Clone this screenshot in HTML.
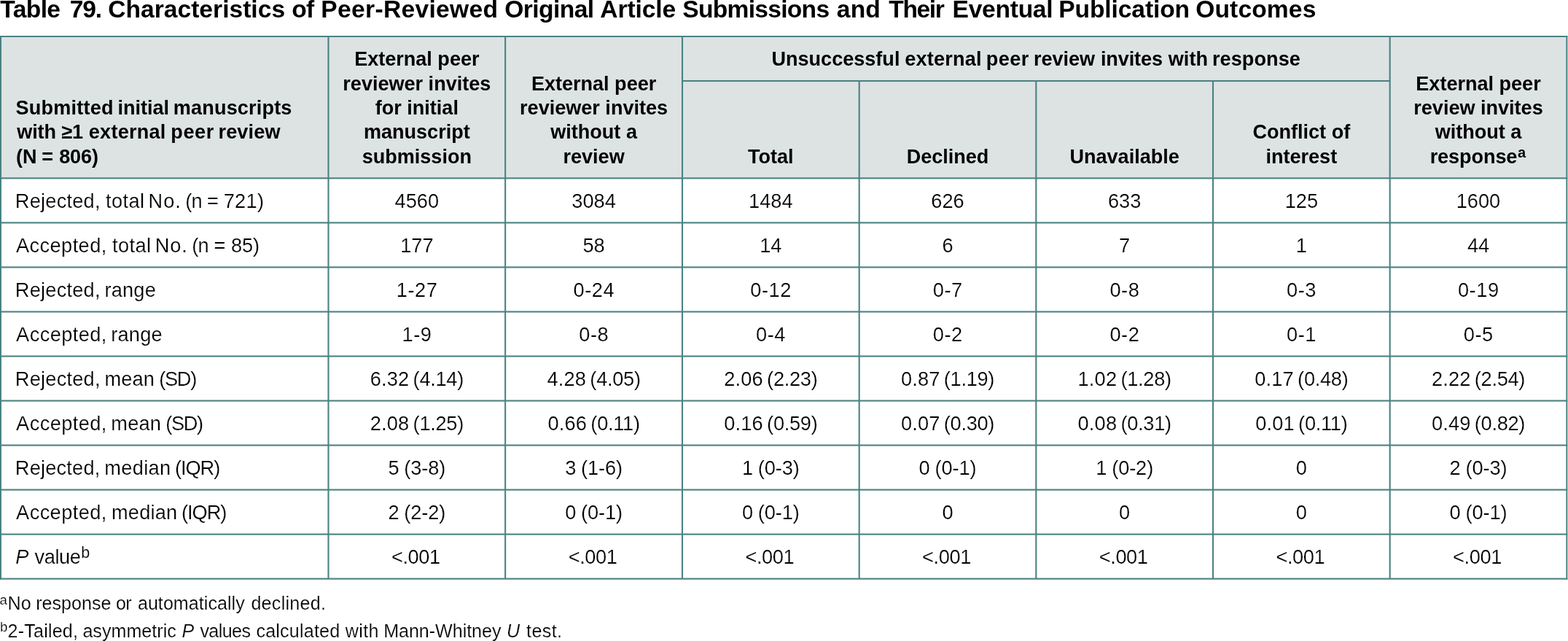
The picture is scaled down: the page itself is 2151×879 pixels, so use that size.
<!DOCTYPE html>
<html lang="en"><head><meta charset="utf-8"><title>Table 79</title>
<style>
html,body{margin:0;padding:0;background:#fff;}
body{width:2151px;height:879px;position:relative;overflow:hidden;font-family:"Liberation Sans",sans-serif;color:#000;}
.grid{position:absolute;left:0;top:0;display:block;shape-rendering:geometricPrecision;}
.t{position:absolute;white-space:nowrap;margin:0;padding:0;}
.t{-webkit-text-stroke:0.2px #fff;}
.b{font-weight:700;-webkit-text-stroke:0;}
.i{font-style:italic;}
</style></head>
<body>
<svg class="grid" width="2151" height="879" viewBox="0 0 2151 879">
<rect x="0" y="50.0" width="2150.33" height="194.4" fill="#dde3e3"/>
<rect x="449.45" y="50.00" width="2.1" height="743.67" fill="#4b8282"/>
<rect x="692.10" y="50.00" width="2.1" height="743.67" fill="#4b8282"/>
<rect x="934.95" y="50.00" width="2.1" height="743.67" fill="#4b8282"/>
<rect x="1177.62" y="111.00" width="2.1" height="682.67" fill="#4b8282"/>
<rect x="1420.28" y="111.00" width="2.1" height="682.67" fill="#4b8282"/>
<rect x="1662.95" y="111.00" width="2.1" height="682.67" fill="#4b8282"/>
<rect x="1905.62" y="50.00" width="2.1" height="743.67" fill="#4b8282"/>
<rect x="0.00" y="49.00" width="2.0" height="745.67" fill="#4b8282"/>
<rect x="2148.33" y="49.00" width="2.0" height="745.67" fill="#4b8282"/>
<rect x="936.00" y="109.95" width="970.67" height="2.1" fill="#4b8282"/>
<rect x="0.00" y="243.35" width="2150.33" height="2.1" fill="#4b8282"/>
<rect x="0.00" y="304.38" width="2150.33" height="2.1" fill="#4b8282"/>
<rect x="0.00" y="365.41" width="2150.33" height="2.1" fill="#4b8282"/>
<rect x="0.00" y="426.44" width="2150.33" height="2.1" fill="#4b8282"/>
<rect x="0.00" y="487.47" width="2150.33" height="2.1" fill="#4b8282"/>
<rect x="0.00" y="548.50" width="2150.33" height="2.1" fill="#4b8282"/>
<rect x="0.00" y="609.53" width="2150.33" height="2.1" fill="#4b8282"/>
<rect x="0.00" y="670.56" width="2150.33" height="2.1" fill="#4b8282"/>
<rect x="0.00" y="731.59" width="2150.33" height="2.1" fill="#4b8282"/>
<rect x="0.00" y="792.62" width="2150.33" height="2.1" fill="#4b8282"/>
<rect x="0.00" y="49.00" width="2150.33" height="2.0" fill="#4b8282"/>
</svg>
<div class="t b" style="top:-11px;left:0.36px;font-size:33.6px;line-height:47px;height:47px;letter-spacing:-0.645px;">Table</div>
<div class="t b" style="top:-11px;left:95.66px;font-size:33.6px;line-height:47px;height:47px;letter-spacing:-1.093px;">79.</div>
<div class="t b" style="top:-11px;left:148.26px;font-size:33.6px;line-height:47px;height:47px;letter-spacing:0.012px;">Characteristics</div>
<div class="t b" style="top:-11px;left:400.32px;font-size:33.6px;line-height:47px;height:47px;letter-spacing:-0.800px;">of</div>
<div class="t b" style="top:-11px;left:440.32px;font-size:33.6px;line-height:47px;height:47px;letter-spacing:0.320px;">Peer-Reviewed</div>
<div class="t b" style="top:-11px;left:692.16px;font-size:33.6px;line-height:47px;height:47px;letter-spacing:-0.547px;">Original</div>
<div class="t b" style="top:-11px;left:823.33px;font-size:33.6px;line-height:47px;height:47px;letter-spacing:-0.126px;">Article</div>
<div class="t b" style="top:-11px;left:936.36px;font-size:33.6px;line-height:47px;height:47px;letter-spacing:-0.726px;">Submissions</div>
<div class="t b" style="top:-11px;left:1147.86px;font-size:33.6px;line-height:47px;height:47px;letter-spacing:0.109px;">and</div>
<div class="t b" style="top:-11px;left:1219.36px;font-size:33.6px;line-height:47px;height:47px;letter-spacing:-1.409px;">Their</div>
<div class="t b" style="top:-11px;left:1306.62px;font-size:33.6px;line-height:47px;height:47px;letter-spacing:-0.283px;">Eventual</div>
<div class="t b" style="top:-11px;left:1452.22px;font-size:33.6px;line-height:47px;height:47px;letter-spacing:-0.105px;">Publication</div>
<div class="t b" style="top:-11px;left:1640.16px;font-size:33.6px;line-height:47px;height:47px;letter-spacing:0.136px;">Outcomes</div>
<div class="t b" style="top:128px;left:21.52px;font-size:27.05px;line-height:40px;height:40px;letter-spacing:0.227px;">Submitted</div>
<div class="t b" style="top:128px;left:161.54px;font-size:27.05px;line-height:40px;height:40px;letter-spacing:-0.024px;">initial</div>
<div class="t b" style="top:128px;left:237.84px;font-size:27.05px;line-height:40px;height:40px;letter-spacing:0.169px;">manuscripts</div>
<div class="t b" style="top:161px;left:23.24px;font-size:27.05px;line-height:40px;height:40px;letter-spacing:-0.092px;">with</div>
<div class="t b" style="top:161px;left:84.58px;font-size:27.05px;line-height:40px;height:40px;">≥</div>
<div class="t b" style="top:161px;left:99.07px;font-size:27.05px;line-height:40px;height:40px;">1</div>
<div class="t b" style="top:161px;left:121.85px;font-size:27.05px;line-height:40px;height:40px;letter-spacing:0.233px;">external</div>
<div class="t b" style="top:161px;left:234.34px;font-size:27.05px;line-height:40px;height:40px;letter-spacing:0.601px;">peer</div>
<div class="t b" style="top:161px;left:299.44px;font-size:27.05px;line-height:40px;height:40px;letter-spacing:0.177px;">review</div>
<div class="t b" style="top:195px;left:21.88px;font-size:27.05px;line-height:40px;height:40px;letter-spacing:0.192px;">(N</div>
<div class="t b" style="top:195px;left:57.19px;font-size:27.05px;line-height:40px;height:40px;">=</div>
<div class="t b" style="top:195px;left:81.19px;font-size:27.05px;line-height:40px;height:40px;letter-spacing:-0.110px;">806)</div>
<div class="t b" style="top:61px;font-size:27.05px;line-height:40px;height:40px;left:71.83px;width:1000px;text-align:center;">External peer</div>
<div class="t b" style="top:95px;font-size:27.05px;line-height:40px;height:40px;left:71.83px;width:1000px;text-align:center;">reviewer invites</div>
<div class="t b" style="top:128px;font-size:27.05px;line-height:40px;height:40px;left:71.83px;width:1000px;text-align:center;">for initial</div>
<div class="t b" style="top:161px;font-size:27.05px;line-height:40px;height:40px;left:71.83px;width:1000px;text-align:center;">manuscript</div>
<div class="t b" style="top:195px;font-size:27.05px;line-height:40px;height:40px;left:71.83px;width:1000px;text-align:center;">submission</div>
<div class="t b" style="top:95px;font-size:27.05px;line-height:40px;height:40px;left:314.58px;width:1000px;text-align:center;">External peer</div>
<div class="t b" style="top:128px;font-size:27.05px;line-height:40px;height:40px;left:314.58px;width:1000px;text-align:center;">reviewer invites</div>
<div class="t b" style="top:161px;font-size:27.05px;line-height:40px;height:40px;left:314.58px;width:1000px;text-align:center;">without a</div>
<div class="t b" style="top:195px;font-size:27.05px;line-height:40px;height:40px;left:314.58px;width:1000px;text-align:center;">review</div>
<div class="t b" style="top:61px;left:1058.48px;font-size:27.05px;line-height:40px;height:40px;letter-spacing:0.006px;">Unsuccessful</div>
<div class="t b" style="top:61px;left:1241.15px;font-size:27.05px;line-height:40px;height:40px;letter-spacing:0.219px;">external</div>
<div class="t b" style="top:61px;left:1352.74px;font-size:27.05px;line-height:40px;height:40px;letter-spacing:0.501px;">peer</div>
<div class="t b" style="top:61px;left:1418.04px;font-size:27.05px;line-height:40px;height:40px;letter-spacing:-0.023px;">review</div>
<div class="t b" style="top:61px;left:1509.94px;font-size:27.05px;line-height:40px;height:40px;letter-spacing:-0.110px;">invites</div>
<div class="t b" style="top:61px;left:1602.64px;font-size:27.05px;line-height:40px;height:40px;letter-spacing:0.141px;">with</div>
<div class="t b" style="top:61px;left:1662.94px;font-size:27.05px;line-height:40px;height:40px;letter-spacing:0.090px;">response</div>
<div class="t b" style="top:195px;font-size:27.05px;line-height:40px;height:40px;left:557.34px;width:1000px;text-align:center;">Total</div>
<div class="t b" style="top:195px;font-size:27.05px;line-height:40px;height:40px;left:800.00px;width:1000px;text-align:center;">Declined</div>
<div class="t b" style="top:195px;font-size:27.05px;line-height:40px;height:40px;left:1042.66px;width:1000px;text-align:center;">Unavailable</div>
<div class="t b" style="top:161px;font-size:27.05px;line-height:40px;height:40px;left:1285.34px;width:1000px;text-align:center;">Conflict of</div>
<div class="t b" style="top:195px;font-size:27.05px;line-height:40px;height:40px;left:1285.34px;width:1000px;text-align:center;">interest</div>
<div class="t b" style="top:95px;font-size:27.05px;line-height:40px;height:40px;left:1528.00px;width:1000px;text-align:center;">External peer</div>
<div class="t b" style="top:128px;font-size:27.05px;line-height:40px;height:40px;left:1528.00px;width:1000px;text-align:center;">review invites</div>
<div class="t b" style="top:161px;font-size:27.05px;line-height:40px;height:40px;left:1528.00px;width:1000px;text-align:center;">without a</div>
<div class="t b" style="top:195px;left:1961.64px;font-size:27.05px;line-height:40px;height:40px;letter-spacing:-0.067px;">response</div>
<div class="t b" style="top:193px;left:2081.90px;font-size:20.0px;line-height:32px;height:32px;">a</div>
<div class="t" style="top:255px;left:20.82px;font-size:27.2px;line-height:41px;height:41px;letter-spacing:0.232px;">Rejected,</div>
<div class="t" style="top:255px;left:144.99px;font-size:27.2px;line-height:41px;height:41px;letter-spacing:0.397px;">total</div>
<div class="t" style="top:255px;left:203.52px;font-size:27.2px;line-height:41px;height:41px;letter-spacing:1.019px;">No.</div>
<div class="t" style="top:255px;left:254.17px;font-size:27.2px;line-height:41px;height:41px;letter-spacing:-0.790px;">(n</div>
<div class="t" style="top:255px;left:284.01px;font-size:27.2px;line-height:41px;height:41px;">=</div>
<div class="t" style="top:255px;left:306.64px;font-size:27.2px;line-height:41px;height:41px;letter-spacing:0.299px;">721)</div>
<div class="t " style="top:255px;font-size:27.2px;line-height:41px;height:41px;left:71.83px;width:1000px;text-align:center;">4560</div>
<div class="t " style="top:255px;font-size:27.2px;line-height:41px;height:41px;left:314.58px;width:1000px;text-align:center;">3084</div>
<div class="t " style="top:255px;font-size:27.2px;line-height:41px;height:41px;left:557.34px;width:1000px;text-align:center;">1484</div>
<div class="t " style="top:255px;font-size:27.2px;line-height:41px;height:41px;left:800.00px;width:1000px;text-align:center;">626</div>
<div class="t " style="top:255px;font-size:27.2px;line-height:41px;height:41px;left:1042.66px;width:1000px;text-align:center;">633</div>
<div class="t " style="top:255px;font-size:27.2px;line-height:41px;height:41px;left:1285.34px;width:1000px;text-align:center;">125</div>
<div class="t " style="top:255px;font-size:27.2px;line-height:41px;height:41px;left:1528.00px;width:1000px;text-align:center;">1600</div>
<div class="t" style="top:316px;left:22.00px;font-size:27.2px;line-height:41px;height:41px;letter-spacing:0.415px;">Accepted,</div>
<div class="t" style="top:316px;left:153.99px;font-size:27.2px;line-height:41px;height:41px;letter-spacing:0.397px;">total</div>
<div class="t" style="top:316px;left:212.72px;font-size:27.2px;line-height:41px;height:41px;letter-spacing:0.919px;">No.</div>
<div class="t" style="top:316px;left:263.17px;font-size:27.2px;line-height:41px;height:41px;letter-spacing:-0.790px;">(n</div>
<div class="t" style="top:316px;left:293.46px;font-size:27.2px;line-height:41px;height:41px;">=</div>
<div class="t" style="top:316px;left:317.11px;font-size:27.2px;line-height:41px;height:41px;letter-spacing:-0.123px;">85)</div>
<div class="t " style="top:316px;font-size:27.2px;line-height:41px;height:41px;left:71.83px;width:1000px;text-align:center;">177</div>
<div class="t " style="top:316px;font-size:27.2px;line-height:41px;height:41px;left:314.58px;width:1000px;text-align:center;">58</div>
<div class="t " style="top:316px;font-size:27.2px;line-height:41px;height:41px;left:557.34px;width:1000px;text-align:center;">14</div>
<div class="t " style="top:316px;font-size:27.2px;line-height:41px;height:41px;left:800.00px;width:1000px;text-align:center;">6</div>
<div class="t " style="top:316px;font-size:27.2px;line-height:41px;height:41px;left:1042.66px;width:1000px;text-align:center;">7</div>
<div class="t " style="top:316px;font-size:27.2px;line-height:41px;height:41px;left:1285.34px;width:1000px;text-align:center;">1</div>
<div class="t " style="top:316px;font-size:27.2px;line-height:41px;height:41px;left:1528.00px;width:1000px;text-align:center;">44</div>
<div class="t" style="top:377px;left:20.82px;font-size:27.2px;line-height:41px;height:41px;letter-spacing:0.232px;">Rejected,</div>
<div class="t" style="top:377px;left:143.53px;font-size:27.2px;line-height:41px;height:41px;letter-spacing:0.180px;">range</div>
<div class="t " style="top:377px;font-size:27.2px;line-height:41px;height:41px;left:72.08px;width:1000px;text-align:center;letter-spacing:0.550px;">1-27</div>
<div class="t " style="top:377px;font-size:27.2px;line-height:41px;height:41px;left:314.83px;width:1000px;text-align:center;letter-spacing:0.550px;">0-24</div>
<div class="t " style="top:377px;font-size:27.2px;line-height:41px;height:41px;left:557.59px;width:1000px;text-align:center;letter-spacing:0.550px;">0-12</div>
<div class="t " style="top:377px;font-size:27.2px;line-height:41px;height:41px;left:800.25px;width:1000px;text-align:center;letter-spacing:0.550px;">0-7</div>
<div class="t " style="top:377px;font-size:27.2px;line-height:41px;height:41px;left:1042.91px;width:1000px;text-align:center;letter-spacing:0.550px;">0-8</div>
<div class="t " style="top:377px;font-size:27.2px;line-height:41px;height:41px;left:1285.59px;width:1000px;text-align:center;letter-spacing:0.550px;">0-3</div>
<div class="t " style="top:377px;font-size:27.2px;line-height:41px;height:41px;left:1528.25px;width:1000px;text-align:center;letter-spacing:0.550px;">0-19</div>
<div class="t" style="top:438px;left:22.10px;font-size:27.2px;line-height:41px;height:41px;letter-spacing:0.415px;">Accepted,</div>
<div class="t" style="top:438px;left:152.33px;font-size:27.2px;line-height:41px;height:41px;letter-spacing:0.180px;">range</div>
<div class="t " style="top:438px;font-size:27.2px;line-height:41px;height:41px;left:72.08px;width:1000px;text-align:center;letter-spacing:0.550px;">1-9</div>
<div class="t " style="top:438px;font-size:27.2px;line-height:41px;height:41px;left:314.83px;width:1000px;text-align:center;letter-spacing:0.550px;">0-8</div>
<div class="t " style="top:438px;font-size:27.2px;line-height:41px;height:41px;left:557.59px;width:1000px;text-align:center;letter-spacing:0.550px;">0-4</div>
<div class="t " style="top:438px;font-size:27.2px;line-height:41px;height:41px;left:800.25px;width:1000px;text-align:center;letter-spacing:0.550px;">0-2</div>
<div class="t " style="top:438px;font-size:27.2px;line-height:41px;height:41px;left:1042.91px;width:1000px;text-align:center;letter-spacing:0.550px;">0-2</div>
<div class="t " style="top:438px;font-size:27.2px;line-height:41px;height:41px;left:1285.59px;width:1000px;text-align:center;letter-spacing:0.550px;">0-1</div>
<div class="t " style="top:438px;font-size:27.2px;line-height:41px;height:41px;left:1528.25px;width:1000px;text-align:center;letter-spacing:0.550px;">0-5</div>
<div class="t" style="top:499px;left:20.82px;font-size:27.2px;line-height:41px;height:41px;letter-spacing:0.232px;">Rejected,</div>
<div class="t" style="top:499px;left:143.43px;font-size:27.2px;line-height:41px;height:41px;letter-spacing:0.130px;">mean</div>
<div class="t" style="top:499px;left:218.27px;font-size:27.2px;line-height:41px;height:41px;letter-spacing:-1.297px;">(SD)</div>
<div class="t " style="top:499px;font-size:27.2px;line-height:41px;height:41px;left:71.83px;width:1000px;text-align:center;"><span style="letter-spacing:0.2px">6.32</span><span style="letter-spacing:-0.28px;margin-left:-2.1px"> (4.14)</span></div>
<div class="t " style="top:499px;font-size:27.2px;line-height:41px;height:41px;left:314.58px;width:1000px;text-align:center;"><span style="letter-spacing:0.2px">4.28</span><span style="letter-spacing:-0.28px;margin-left:-2.1px"> (4.05)</span></div>
<div class="t " style="top:499px;font-size:27.2px;line-height:41px;height:41px;left:557.34px;width:1000px;text-align:center;"><span style="letter-spacing:0.2px">2.06</span><span style="letter-spacing:-0.28px;margin-left:-2.1px"> (2.23)</span></div>
<div class="t " style="top:499px;font-size:27.2px;line-height:41px;height:41px;left:800.00px;width:1000px;text-align:center;"><span style="letter-spacing:0.2px">0.87</span><span style="letter-spacing:-0.28px;margin-left:-2.1px"> (1.19)</span></div>
<div class="t " style="top:499px;font-size:27.2px;line-height:41px;height:41px;left:1042.66px;width:1000px;text-align:center;"><span style="letter-spacing:0.2px">1.02</span><span style="letter-spacing:-0.28px;margin-left:-2.1px"> (1.28)</span></div>
<div class="t " style="top:499px;font-size:27.2px;line-height:41px;height:41px;left:1285.34px;width:1000px;text-align:center;"><span style="letter-spacing:0.2px">0.17</span><span style="letter-spacing:-0.28px;margin-left:-2.1px"> (0.48)</span></div>
<div class="t " style="top:499px;font-size:27.2px;line-height:41px;height:41px;left:1528.00px;width:1000px;text-align:center;"><span style="letter-spacing:0.2px">2.22</span><span style="letter-spacing:-0.28px;margin-left:-2.1px"> (2.54)</span></div>
<div class="t" style="top:560px;left:22.10px;font-size:27.2px;line-height:41px;height:41px;letter-spacing:0.415px;">Accepted,</div>
<div class="t" style="top:560px;left:152.33px;font-size:27.2px;line-height:41px;height:41px;letter-spacing:0.197px;">mean</div>
<div class="t" style="top:560px;left:227.37px;font-size:27.2px;line-height:41px;height:41px;letter-spacing:-1.364px;">(SD)</div>
<div class="t " style="top:560px;font-size:27.2px;line-height:41px;height:41px;left:71.83px;width:1000px;text-align:center;"><span style="letter-spacing:0.2px">2.08</span><span style="letter-spacing:-0.28px;margin-left:-2.1px"> (1.25)</span></div>
<div class="t " style="top:560px;font-size:27.2px;line-height:41px;height:41px;left:314.58px;width:1000px;text-align:center;"><span style="letter-spacing:0.2px">0.66</span><span style="letter-spacing:-0.28px;margin-left:-2.1px"> (0.11)</span></div>
<div class="t " style="top:560px;font-size:27.2px;line-height:41px;height:41px;left:557.34px;width:1000px;text-align:center;"><span style="letter-spacing:0.2px">0.16</span><span style="letter-spacing:-0.28px;margin-left:-2.1px"> (0.59)</span></div>
<div class="t " style="top:560px;font-size:27.2px;line-height:41px;height:41px;left:800.00px;width:1000px;text-align:center;"><span style="letter-spacing:0.2px">0.07</span><span style="letter-spacing:-0.28px;margin-left:-2.1px"> (0.30)</span></div>
<div class="t " style="top:560px;font-size:27.2px;line-height:41px;height:41px;left:1042.66px;width:1000px;text-align:center;"><span style="letter-spacing:0.2px">0.08</span><span style="letter-spacing:-0.28px;margin-left:-2.1px"> (0.31)</span></div>
<div class="t " style="top:560px;font-size:27.2px;line-height:41px;height:41px;left:1285.34px;width:1000px;text-align:center;"><span style="letter-spacing:0.2px">0.01</span><span style="letter-spacing:-0.28px;margin-left:-2.1px"> (0.11)</span></div>
<div class="t " style="top:560px;font-size:27.2px;line-height:41px;height:41px;left:1528.00px;width:1000px;text-align:center;"><span style="letter-spacing:0.2px">0.49</span><span style="letter-spacing:-0.28px;margin-left:-2.1px"> (0.82)</span></div>
<div class="t" style="top:621px;left:20.82px;font-size:27.2px;line-height:41px;height:41px;letter-spacing:0.207px;">Rejected,</div>
<div class="t" style="top:621px;left:143.33px;font-size:27.2px;line-height:41px;height:41px;letter-spacing:0.324px;">median</div>
<div class="t" style="top:621px;left:239.97px;font-size:27.2px;line-height:41px;height:41px;letter-spacing:-1.041px;">(IQR)</div>
<div class="t " style="top:621px;font-size:27.2px;line-height:41px;height:41px;left:71.83px;width:1000px;text-align:center;">5<span style="letter-spacing:-0.1px;margin-left:-0.6px"> (3-8)</span></div>
<div class="t " style="top:621px;font-size:27.2px;line-height:41px;height:41px;left:314.58px;width:1000px;text-align:center;">3<span style="letter-spacing:-0.1px;margin-left:-0.6px"> (1-6)</span></div>
<div class="t " style="top:621px;font-size:27.2px;line-height:41px;height:41px;left:557.34px;width:1000px;text-align:center;">1<span style="letter-spacing:-0.1px;margin-left:-0.6px"> (0-3)</span></div>
<div class="t " style="top:621px;font-size:27.2px;line-height:41px;height:41px;left:800.00px;width:1000px;text-align:center;">0<span style="letter-spacing:-0.1px;margin-left:-0.6px"> (0-1)</span></div>
<div class="t " style="top:621px;font-size:27.2px;line-height:41px;height:41px;left:1042.66px;width:1000px;text-align:center;">1<span style="letter-spacing:-0.1px;margin-left:-0.6px"> (0-2)</span></div>
<div class="t " style="top:621px;font-size:27.2px;line-height:41px;height:41px;left:1285.34px;width:1000px;text-align:center;">0</div>
<div class="t " style="top:621px;font-size:27.2px;line-height:41px;height:41px;left:1528.00px;width:1000px;text-align:center;">2<span style="letter-spacing:-0.1px;margin-left:-0.6px"> (0-3)</span></div>
<div class="t" style="top:682px;left:22.10px;font-size:27.2px;line-height:41px;height:41px;letter-spacing:0.403px;">Accepted,</div>
<div class="t" style="top:682px;left:152.93px;font-size:27.2px;line-height:41px;height:41px;letter-spacing:0.224px;">median</div>
<div class="t" style="top:682px;left:249.07px;font-size:27.2px;line-height:41px;height:41px;letter-spacing:-1.041px;">(IQR)</div>
<div class="t " style="top:682px;font-size:27.2px;line-height:41px;height:41px;left:71.83px;width:1000px;text-align:center;">2<span style="letter-spacing:-0.1px;margin-left:-0.6px"> (2-2)</span></div>
<div class="t " style="top:682px;font-size:27.2px;line-height:41px;height:41px;left:314.58px;width:1000px;text-align:center;">0<span style="letter-spacing:-0.1px;margin-left:-0.6px"> (0-1)</span></div>
<div class="t " style="top:682px;font-size:27.2px;line-height:41px;height:41px;left:557.34px;width:1000px;text-align:center;">0<span style="letter-spacing:-0.1px;margin-left:-0.6px"> (0-1)</span></div>
<div class="t " style="top:682px;font-size:27.2px;line-height:41px;height:41px;left:800.00px;width:1000px;text-align:center;">0</div>
<div class="t " style="top:682px;font-size:27.2px;line-height:41px;height:41px;left:1042.66px;width:1000px;text-align:center;">0</div>
<div class="t " style="top:682px;font-size:27.2px;line-height:41px;height:41px;left:1285.34px;width:1000px;text-align:center;">0</div>
<div class="t " style="top:682px;font-size:27.2px;line-height:41px;height:41px;left:1528.00px;width:1000px;text-align:center;">0<span style="letter-spacing:-0.1px;margin-left:-0.6px"> (0-1)</span></div>
<div class="t i" style="top:743px;left:21.35px;font-size:27.2px;line-height:41px;height:41px;">P</div>
<div class="t" style="top:743px;left:47.40px;font-size:27.2px;line-height:41px;height:41px;letter-spacing:-0.351px;">value</div>
<div class="t" style="top:741px;left:111.37px;font-size:21.5px;line-height:34px;height:34px;">b</div>
<div class="t " style="top:743px;font-size:27.2px;line-height:41px;height:41px;left:70.33px;width:1000px;text-align:center;letter-spacing:-0.400px;">&lt;.001</div>
<div class="t " style="top:743px;font-size:27.2px;line-height:41px;height:41px;left:313.08px;width:1000px;text-align:center;letter-spacing:-0.400px;">&lt;.001</div>
<div class="t " style="top:743px;font-size:27.2px;line-height:41px;height:41px;left:555.84px;width:1000px;text-align:center;letter-spacing:-0.400px;">&lt;.001</div>
<div class="t " style="top:743px;font-size:27.2px;line-height:41px;height:41px;left:798.50px;width:1000px;text-align:center;letter-spacing:-0.400px;">&lt;.001</div>
<div class="t " style="top:743px;font-size:27.2px;line-height:41px;height:41px;left:1041.16px;width:1000px;text-align:center;letter-spacing:-0.400px;">&lt;.001</div>
<div class="t " style="top:743px;font-size:27.2px;line-height:41px;height:41px;left:1283.84px;width:1000px;text-align:center;letter-spacing:-0.400px;">&lt;.001</div>
<div class="t " style="top:743px;font-size:27.2px;line-height:41px;height:41px;left:1526.50px;width:1000px;text-align:center;letter-spacing:-0.400px;">&lt;.001</div>
<div class="t" style="top:807px;left:-0.51px;font-size:18.7px;line-height:31px;height:31px;">a</div>
<div class="t" style="top:808px;left:10.39px;font-size:25.1px;line-height:38px;height:38px;letter-spacing:0.255px;">No</div>
<div class="t" style="top:808px;left:49.27px;font-size:25.1px;line-height:38px;height:38px;letter-spacing:-0.013px;">response</div>
<div class="t" style="top:808px;left:159.10px;font-size:25.1px;line-height:38px;height:38px;letter-spacing:-0.800px;">or</div>
<div class="t" style="top:808px;left:188.90px;font-size:25.1px;line-height:38px;height:38px;letter-spacing:0.035px;">automatically</div>
<div class="t" style="top:808px;left:344.40px;font-size:25.1px;line-height:38px;height:38px;letter-spacing:0.267px;">declined.</div>
<div class="t" style="top:844px;left:-0.08px;font-size:18.7px;line-height:31px;height:31px;">b</div>
<div class="t" style="top:846px;left:10.54px;font-size:25.1px;line-height:38px;height:38px;letter-spacing:0.198px;">2-Tailed,</div>
<div class="t" style="top:846px;left:113.40px;font-size:25.1px;line-height:38px;height:38px;letter-spacing:0.015px;">asymmetric</div>
<div class="t i" style="top:846px;left:249.53px;font-size:25.1px;line-height:38px;height:38px;">P</div>
<div class="t" style="top:846px;left:274.40px;font-size:25.1px;line-height:38px;height:38px;letter-spacing:-0.575px;">values</div>
<div class="t" style="top:846px;left:351.40px;font-size:25.1px;line-height:38px;height:38px;letter-spacing:0.202px;">calculated</div>
<div class="t" style="top:846px;left:473.83px;font-size:25.1px;line-height:38px;height:38px;letter-spacing:0.325px;">with</div>
<div class="t" style="top:846px;left:526.19px;font-size:25.1px;line-height:38px;height:38px;letter-spacing:-0.046px;">Mann-Whitney</div>
<div class="t i" style="top:846px;left:694.91px;font-size:25.1px;line-height:38px;height:38px;">U</div>
<div class="t" style="top:846px;left:722.02px;font-size:25.1px;line-height:38px;height:38px;letter-spacing:0.388px;">test.</div>
</body></html>
